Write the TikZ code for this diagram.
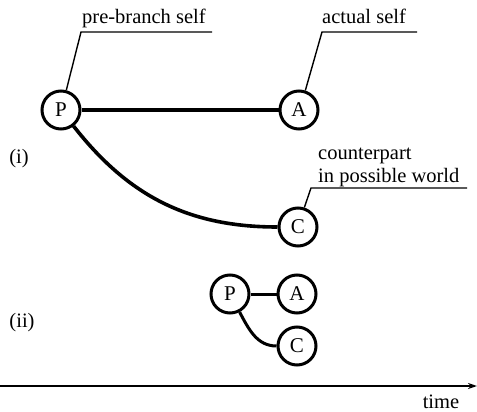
\documentclass[tikz,border=0pt]{standalone}
\usepackage{fontspec}
\setmainfont{Liberation Serif}
\usetikzlibrary{arrows.meta}
\begin{document}
\begin{tikzpicture}[x=1pt,y=-1pt,
  self/.style={circle,draw,line width=3pt,minimum size=38pt,inner sep=0pt,font=\fontsize{21}{24}\selectfont},
  link/.style={line width=3.6pt},
  callout/.style={line width=1.4pt},
  lbl/.style={font=\fontsize{20.5}{22.5}\selectfont,inner sep=0pt}]
\useasboundingbox (0,0) rectangle (477,412);

% (i) the branching at full size
\node[self] (P) at (61,110) {P};
\node[self] (A) at (299,110) {A};
\node[self] (C) at (298,227) {C};
\draw[link] (P) -- (A);
\draw[link] (P) to[out=-52,in=180] (C);

% call-outs
\coordinate (pk) at (81,32);
\coordinate (pe) at (212,32);
\draw[callout] (P.75) -- (pk) -- (pe);
\node[lbl,anchor=base west] (pl) at (82,24) {pre-branch self};

\coordinate (ak) at (322,32);
\coordinate (ae) at (417,32);
\draw[callout] (A.72) -- (ak) -- (ae);
\node[lbl,anchor=base west] (al) at (322,24) {actual self};

\coordinate (ck) at (311,188);
\coordinate (ce) at (467,188);
\draw[callout] (C.72) -- (ck) -- (ce);
\node[lbl,anchor=base west,align=left] (cl) at (318,182) {counterpart\\in possible world};

\node[lbl] (li) at (19,159) {(i)};

% (ii) the same branching, compressed in time
\node[self] (p) at (230,294) {P};
\node[self] (a) at (297,294) {A};
\node[self] (c) at (297,346) {C};
\draw[line width=3pt] (p) -- (a);
\draw[line width=3pt] (p) to[out=-62,in=180] (c);

\node[lbl] (lii) at (22,323) {(ii)};

% time axis
\coordinate (t0) at (0,386);
\coordinate (t1) at (477,386);
\draw[line width=1.6pt,-{Stealth[length=9pt,width=6pt]}] (t0) -- (t1);
\node[lbl,anchor=base] (tl) at (441,408) {time};
\end{tikzpicture}
\end{document}
